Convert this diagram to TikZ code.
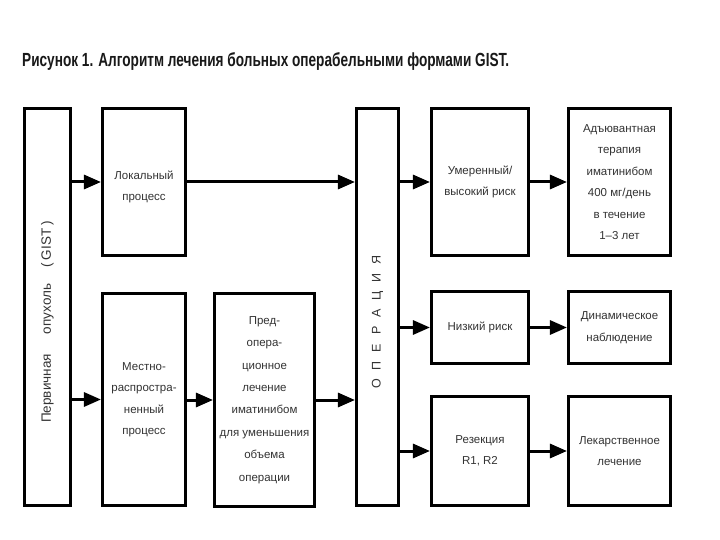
\documentclass[tikz,border=0pt]{standalone}
\usepackage{fontspec}
\setmainfont{Liberation Sans}
\usetikzlibrary{arrows.meta}
\begin{document}
\begin{tikzpicture}[x=1pt,y=-1pt,
  box/.style={draw=black, line width=2.6pt, fill=white, align=center, inner sep=2pt,
    font=\fontsize{11.5}{21.5}\selectfont, text=black!80},
  boxtext/.style={align=center, font=\fontsize{11.5}{21.5}\selectfont, text=black!80},
  arr/.style={line width=3pt, -{Triangle[length=17pt,width=14pt]}},
  ttl/.style={anchor=base west, inner sep=0pt, text=black!90}]
\useasboundingbox (0,0) rectangle (720,540);
\fill[white] (0,0) rectangle (720,540);
% title
\node[ttl] (title) at (22,67) {\resizebox{487pt}{\height}{\fontsize{19}{19}\selectfont\bfseries Рисунок 1. Алгоритм лечения больных операбельными формами GIST.}};
% boxes
\node[box, minimum width=46.5pt, minimum height=397.5pt] (prim) at (47.5,307)
  {\rotatebox{90}{\fontsize{13.5}{15}\selectfont Первичная\hspace{20pt}опухоль\hspace{16pt}(\hspace{3pt}GIST\hspace{3pt})\hspace*{30pt}}};
\node[box, minimum width=83.5pt, minimum height=147.5pt,
  label={[boxtext, yshift=-5pt]center:Локальный\\процесс}] (local) at (144,182) {};
\node[box, minimum width=83.5pt, minimum height=212.5pt] (mestno) at (144,399.5) {Местно-\\распростра-\\ненный\\процесс};
\node[box, minimum width=100.5pt, minimum height=213.5pt, font=\fontsize{11.5}{22.4}\selectfont] (preop) at (264.5,400)
  {Пред-\\опера-\\ционное\\лечение\\иматинибом\\для уменьшения\\объема\\операции};
\node[box, minimum width=42.5pt, minimum height=397.5pt] (op) at (377.5,307)
  {\rotatebox{90}{\fontsize{12.5}{14}\selectfont О\hspace{9pt}П\hspace{9pt}Е\hspace{9pt}Р\hspace{9pt}А\hspace{9pt}Ц\hspace{9pt}И\hspace{9pt}Я\hspace*{30pt}}};
\node[box, minimum width=97.5pt, minimum height=147.5pt] (mod) at (480,182) {Умеренный/\\высокий риск};
\node[box, minimum width=97.5pt, minimum height=72.5pt] (low) at (480,327.5) {Низкий риск};
\node[box, minimum width=97.5pt, minimum height=109.5pt] (res) at (480,451) {Резекция\\R1, R2};
\node[box, minimum width=102.5pt, minimum height=147.5pt] (adj) at (619.5,182)
  {Адъювантная\\терапия\\иматинибом\\400 мг/день\\в течение\\1–3 лет};
\node[box, minimum width=102.5pt, minimum height=72.5pt] (dyn) at (619.5,327.5) {Динамическое\\наблюдение};
\node[box, minimum width=102.5pt, minimum height=109.5pt] (lek) at (619.5,451) {Лекарственное\\лечение};
% connectors
\draw[arr] (prim.east |- local.west) -- (local.west);
\draw[arr] (prim.east |- mestno.west) -- (mestno.west);
\draw[arr] (mestno.east |- preop.west) -- (preop.west);
\draw[arr] (preop.east) -- (preop.east -| op.west);
\draw[arr] (local.east) -- (local.east -| op.west);
\draw[arr] (op.east |- mod.west) -- (mod.west);
\draw[arr] (op.east |- low.west) -- (low.west);
\draw[arr] (op.east |- res.west) -- (res.west);
\draw[arr] (mod.east) -- (adj.west);
\draw[arr] (low.east) -- (dyn.west);
\draw[arr] (res.east) -- (lek.west);
\end{tikzpicture}
\end{document}
